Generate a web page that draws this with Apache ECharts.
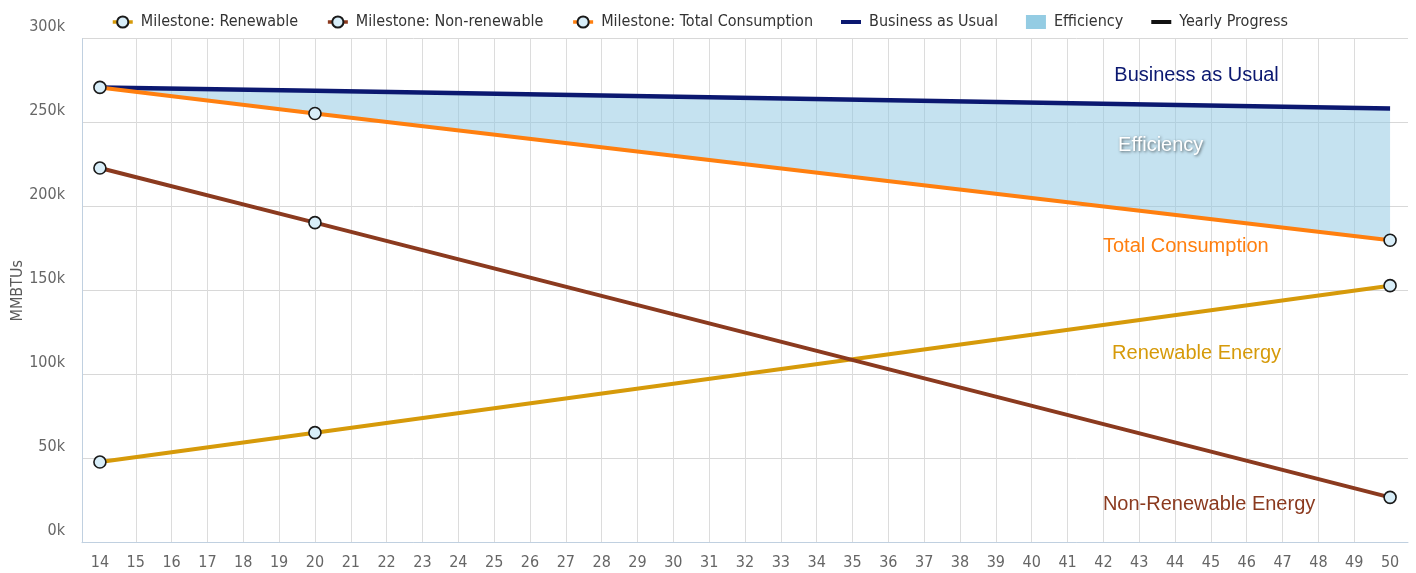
<!DOCTYPE html>
<html>
<head>
<meta charset="utf-8">
<script src="https://cdn.jsdelivr.net/npm/echarts@6/dist/echarts.min.js"></script>
<style>
html,body{margin:0;padding:0;background:#fff;}
#chart{width:1416px;height:573px;}
</style>
</head>
<body>
<div id="chart"></div>
<script>
// ---- data ----
const years = [14,15,16,17,18,19,20,21,22,23,24,25,26,27,28,29,30,31,32,33,34,35,36,37,38,39,40,41,42,43,44,45,46,47,48,49,50];
const milestoneYears = [14, 20, 50];
const renewable = [48000, 65500, 153000];
const nonRenewable = [223000, 190500, 27000];
const totalConsumption = [271000, 255500, 180000];
const businessAsUsual = [271000, 269000, 258500];
const yTicks = [0, 50000, 100000, 150000, 200000, 250000, 300000];
const legendNames = ['Milestone: Renewable','Milestone: Non-renewable','Milestone: Total Consumption','Business as Usual','Efficiency','Yearly Progress'];
const inlineLabels = [
  {text:'Business as Usual', x:44.6, y:277800},
  {text:'Efficiency', x:43.6, y:236100},
  {text:'Total Consumption', x:44.3, y:176000},
  {text:'Renewable Energy', x:44.6, y:112300},
  {text:'Non-Renewable Energy', x:44.95, y:22500}
];

const COND = "'Liberation Sans Narrow','DejaVu Sans Condensed','Roboto',sans-serif";
const SANS = "'Liberation Sans','Arial',sans-serif";
const colors = {renew:'#d69a0a', nonrenew:'#8b3a1f', total:'#ff7f0f', bau:'#0b1870', eff:'#94cce3', yearly:'#111111'};

const pts = arr => milestoneYears.map((x,i)=>[x, arr[i]]);
const effData = milestoneYears.map((x,i)=>[x, businessAsUsual[i], totalConsumption[i]]);

const markerStyle = {color:'#d8eef9', borderColor:'#1a1a1a', borderWidth:1.6};
const barIcon = 'path://M0,0 L20,0 L20,4 L0,4 Z';

function lbl(i, color, extra){
  const l = inlineLabels[i];
  return {coord:[l.x, l.y], symbolSize:1, itemStyle:{color:'rgba(0,0,0,0)'},
    label:Object.assign({show:true, position:'inside', formatter:l.text, color:color, fontSize:20, fontFamily:SANS}, extra||{})};
}

const chart = echarts.init(document.getElementById('chart'), null, {renderer:'canvas'});
chart.setOption({
  animation:false,
  backgroundColor:'#fff',
  textStyle:{fontFamily:COND},
  legend:{
    top:9, left:106, itemGap:28, itemWidth:20, itemHeight:14,
    lineStyle:{width:3.5},
    textStyle:{fontSize:16, color:'#333', fontFamily:COND, padding:[0,0,0,3]},
    data:[
      {name:legendNames[0]},{name:legendNames[1]},{name:legendNames[2]},
      {name:legendNames[3], icon:barIcon},{name:legendNames[4], icon:'rect'},{name:legendNames[5], icon:barIcon}
    ]
  },
  grid:{left:82, right:8, top:38.7, bottom:30.3, containLabel:false, outerBoundsMode:'none'},
  xAxis:{
    type:'value', min:13.5, max:50.5,
    axisLine:{show:true, lineStyle:{color:'#c0d0e0', width:1}},
    axisTick:{show:false, customValues:years},
    axisLabel:{customValues:years, color:'#666', fontSize:16, margin:12, fontFamily:COND},
    splitLine:{show:true, showMinLine:false, showMaxLine:false, lineStyle:{color:'#dcdcdc', width:1}}
  },
  yAxis:{
    type:'value', min:0, max:300000, interval:50000,
    name:'MMBTUs', nameLocation:'middle', nameGap:56, nameRotate:90, nameMoveOverlap:false,
    nameTextStyle:{color:'#5a5a5a', fontSize:16, fontFamily:COND},
    axisLine:{show:true, lineStyle:{color:'#c0d0e0', width:1}},
    axisTick:{show:false},
    axisLabel:{color:'#666', fontSize:16, margin:17, fontFamily:COND, verticalAlign:'bottom', padding:[0,0,4,0],
      formatter:v=>(v/1000)+'k'},
    splitLine:{show:true, lineStyle:{color:'#d8d8d8', width:1}}
  },
  series:[
    {name:legendNames[4], type:'custom', data:effData, encode:{x:0, y:[1,2]},
      itemStyle:{color:colors.eff}, silent:true, z:1,
      renderItem:function(params, api){
        if (params.dataIndex !== 0) return null;
        const top = effData.map(d=>api.coord([d[0], d[1]]));
        const bottom = effData.map(d=>api.coord([d[0], d[2]])).reverse();
        return {type:'polygon', shape:{points:top.concat(bottom)}, style:{fill:'rgba(140,198,225,0.5)'}};
      }},
    {name:legendNames[0], type:'line', data:pts(renewable), symbol:'circle', symbolSize:12,
      color:colors.renew, lineStyle:{width:4, color:colors.renew}, itemStyle:markerStyle, z:3,
      markPoint:{silent:true, data:[lbl(3, colors.renew)]}},
    {name:legendNames[1], type:'line', data:pts(nonRenewable), symbol:'circle', symbolSize:12,
      color:colors.nonrenew, lineStyle:{width:4, color:colors.nonrenew}, itemStyle:markerStyle, z:3,
      markPoint:{silent:true, data:[lbl(4, colors.nonrenew)]}},
    {name:legendNames[3], type:'line', data:pts(businessAsUsual), symbol:'none',
      color:colors.bau, itemStyle:{color:colors.bau}, lineStyle:{width:4.5, color:colors.bau}, z:4,
      markPoint:{silent:true, data:[lbl(0, colors.bau),
        lbl(1, '#ffffff', {textShadowColor:'rgba(0,0,0,0.6)', textShadowBlur:3, textShadowOffsetX:1, textShadowOffsetY:1})]}},
    {name:legendNames[2], type:'line', data:pts(totalConsumption), symbol:'circle', symbolSize:12,
      color:colors.total, lineStyle:{width:4, color:colors.total}, itemStyle:markerStyle, z:5,
      markPoint:{silent:true, data:[lbl(2, colors.total)]}},
    {name:legendNames[5], type:'line', data:[], symbol:'none', color:colors.yearly,
      itemStyle:{color:colors.yearly}, lineStyle:{width:3, color:colors.yearly}}
  ]
});
</script>
</body>
</html>
